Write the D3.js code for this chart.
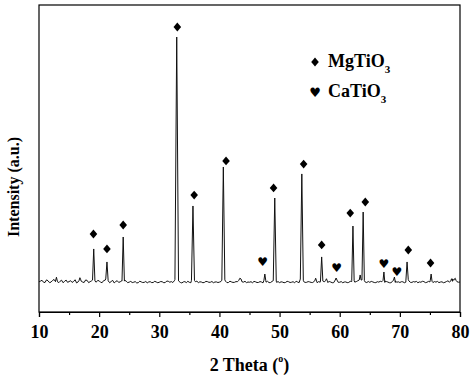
<!DOCTYPE html>
<html>
<head>
<meta charset="utf-8">
<script src="https://cdn.jsdelivr.net/npm/d3@7/dist/d3.min.js"></script>
<style>
  body { margin: 0; background: #fff; }
  text { font-family: "Liberation Serif", "Times New Roman", serif; font-weight: bold; fill: #000; }
</style>
</head>
<body>
<div id="xrd"></div>
<script>
// background pattern, one value every 0.5 deg from 10 to 80
var baseStart = 10, baseStep = 0.5;
var baseline = [
  295, 310, 288, 305, 292, 318, 290, 300, 286, 312,
  297, 289, 315, 294, 302, 288, 309, 296, 300, 291,
  305, 287, 311, 293, 298, 284, 306, 295, 290, 301,
  292, 288, 297, 286, 294, 290, 285, 296, 289, 293,
  291, 295, 288, 300, 297, 305, 292, 289, 294, 287,
  290, 298, 296, 287, 293, 289, 297, 291, 286, 294,
  292, 299, 302, 288, 294, 290, 296, 310, 292, 287,
  291, 286, 295, 289, 293, 298, 300, 288, 294, 290,
  287, 292, 289, 296, 291, 285, 293, 310, 298, 290,
  294, 288, 292, 297, 290, 296, 289, 293, 287, 300,
  291, 286, 294, 289, 298, 292, 305, 301, 295, 288,
  290, 294, 287, 292, 296, 289, 293, 286, 300, 291,
  288, 295, 292, 304, 289, 293, 286, 291, 297, 290,
  294, 288, 292, 287, 295, 290, 305, 292, 310, 296,
  293
];
// the in-between readings, at 10.25, 10.75, ... 79.75
var baselineMid = [
  302, 291, 314, 287, 308, 296, 285, 311, 299, 290,
  306, 298, 284, 310, 293, 313, 287, 305, 288, 308,
  290, 307, 296, 286, 309, 297, 289, 304, 310, 287,
  299, 291, 284, 301, 288, 298, 294, 287, 300, 286,
  298, 286, 303, 291, 288, 296, 301, 284, 297, 300,
  286, 292, 301, 295, 286, 299, 290, 298, 293, 288,
  298, 290, 287, 301, 289, 297, 288, 295, 300, 293,
  296, 299, 288, 297, 285, 292, 287, 299, 286, 297,
  295, 286, 300, 288, 296, 301, 287, 293, 289, 297,
  289, 299, 286, 291, 299, 287, 298, 286, 295, 290,
  297, 293, 287, 300, 288, 297, 290, 287, 292, 298,
  299, 288, 296, 300, 287, 298, 286, 297, 289, 295,
  296, 286, 298, 290, 297, 299, 294, 300, 287, 299,
  289, 297, 299, 293, 286, 298, 291, 300, 289, 291
];

// reflections: position (2 theta), top intensity, half width at the foot
var peakPos = [12.9, 16.8, 19.1, 21.3, 24.0, 32.9, 35.6, 40.65, 43.4, 47.55, 49.2, 53.7, 56.0, 57.0, 57.8, 59.4, 62.2, 63.4, 63.9, 67.35, 69.1, 71.2, 75.2, 78.6, 79.2];
var peakTop = [340, 335, 616, 489, 733, 2687, 1036, 1417, 330, 371, 1114, 1349, 330, 538, 325, 332, 840, 362, 977, 391, 342, 489, 371, 325, 330];
var peakWidth = [0.15, 0.15, 0.2, 0.2, 0.2, 0.3, 0.25, 0.25, 0.2, 0.15, 0.25, 0.25, 0.15, 0.2, 0.15, 0.15, 0.2, 0.15, 0.2, 0.15, 0.15, 0.2, 0.15, 0.15, 0.15];

// phase markers
var markPos = [19.05, 21.3, 24.0, 33.0, 35.8, 41.1, 49.0, 54.0, 57.0, 61.75, 64.25, 71.4, 75.1, 47.2, 59.5, 67.35, 69.5];
var markY = [762, 616, 850, 2785, 1143, 1476, 1212, 1446, 655, 967, 1075, 606, 479, 489, 430, 469, 391];
var markPhase = ["m", "m", "m", "m", "m", "m", "m", "m", "m", "m", "m", "m", "m", "c", "c", "c", "c"];

var xTicks = [10, 20, 30, 40, 50, 60, 70, 80];
var xMinor = [15, 25, 35, 45, 55, 65, 75];

var margin = {top: 5, right: 14, bottom: 68, left: 39},
    width = 474 - margin.left - margin.right,
    height = 380 - margin.top - margin.bottom;

// build the line points: background plus the spikes
function baseAt(x) {
  var i = Math.round((x - baseStart) / baseStep);
  i = Math.max(0, Math.min(baseline.length - 1, i));
  return baseline[i];
}
function inPeak(x) {
  return peakPos.some(function(p, j) { return Math.abs(x - p) <= peakWidth[j]; });
}
var data = [];
baseline.forEach(function(v, i) {
  var x = baseStart + i * baseStep;
  if (!inPeak(x)) data.push({x: x, y: v});
});
baselineMid.forEach(function(v, i) {
  var x = baseStart + baseStep / 2 + i * baseStep;
  if (!inPeak(x)) data.push({x: x, y: v});
});
peakPos.forEach(function(p, j) {
  data.push({x: p - peakWidth[j], y: baseAt(p - peakWidth[j]) + 12});
  data.push({x: p, y: peakTop[j]});
  data.push({x: p + peakWidth[j], y: baseAt(p + peakWidth[j]) + 12});
});
data.sort(function(a, b) { return a.x - b.x; });

var xScale = d3.scaleLinear().domain([10, 80]).range([0, width]);
var yScale = d3.scaleLinear().domain([0, 3000]).range([height, 0]);

var svg = d3.select("#xrd").append("svg")
    .attr("width", 474)
    .attr("height", 380)
  .append("g")
    .attr("transform", "translate(" + margin.left + "," + margin.top + ")");

// frame
svg.append("rect")
    .attr("width", width)
    .attr("height", height)
    .attr("fill", "none")
    .attr("stroke", "#000")
    .attr("stroke-width", 1.2);

// x axis, major ticks with labels
var xAxis = svg.append("g")
    .attr("transform", "translate(0," + height + ")")
    .call(d3.axisBottom(xScale).tickValues(xTicks).tickSize(5).tickPadding(8).tickFormat(d3.format("d")));
xAxis.select(".domain").attr("stroke-width", 1.2);
xAxis.selectAll(".tick line").attr("stroke-width", 1.2);
xAxis.selectAll("text")
    .style("font-family", "'Liberation Serif', serif")
    .style("font-weight", "bold")
    .style("font-size", "18px");

// minor ticks
svg.append("g")
    .attr("transform", "translate(0," + height + ")")
    .call(d3.axisBottom(xScale).tickValues(xMinor).tickSize(3).tickFormat(""))
    .call(function(g) { g.select(".domain").remove(); })
    .selectAll(".tick line").attr("stroke-width", 1.2);

// axis titles
var xt = svg.append("text")
    .attr("x", width / 2)
    .attr("y", 366)
    .attr("text-anchor", "middle")
    .style("font-size", "18px");
xt.append("tspan").text("2 Theta (");
xt.append("tspan").attr("dy", -9).style("font-size", "10px").text("o");
xt.append("tspan").attr("dy", 9).text(")");

svg.append("text")
    .attr("transform", "translate(" + (19 - margin.left) + "," + (187 - margin.top) + ") rotate(-90)")
    .attr("text-anchor", "middle")
    .style("font-size", "16px")
    .text("Intensity (a.u.)");

// the pattern
var line = d3.line()
    .x(function(d) { return xScale(d.x); })
    .y(function(d) { return yScale(d.y); });

svg.append("path")
    .datum(data)
    .attr("d", line)
    .attr("fill", "none")
    .attr("stroke", "#111")
    .attr("stroke-width", 1)
    .attr("stroke-linejoin", "round");

// markers
var diamond = d3.symbol().type(d3.symbolSquare).size(32);
var marks = markPos.map(function(p, i) { return {x: p, y: markY[i], phase: markPhase[i]}; });

svg.selectAll(".dia")
    .data(marks.filter(function(d) { return d.phase === "m"; }))
    .enter().append("path")
    .attr("class", "dia")
    .attr("d", diamond)
    .attr("transform", function(d) { return "translate(" + xScale(d.x) + "," + yScale(d.y) + ") scale(0.95,1.1) rotate(45)"; })
    .attr("fill", "#000");

svg.selectAll(".heart")
    .data(marks.filter(function(d) { return d.phase === "c"; }))
    .enter().append("text")
    .attr("class", "heart")
    .attr("x", function(d) { return xScale(d.x); })
    .attr("y", function(d) { return yScale(d.y); })
    .attr("text-anchor", "middle")
    .attr("dy", "0.35em")
    .style("font-family", "'DejaVu Sans', sans-serif")
    .style("font-size", "12px")
    .text("\u2665");

// legend
var legend = [{label: "MgTiO", phase: "m"}, {label: "CaTiO", phase: "c"}];
var lg = svg.selectAll(".lg")
    .data(legend)
    .enter().append("g")
    .attr("class", "lg")
    .attr("transform", function(d, i) { return "translate(" + (315 - margin.left) + "," + (62 + i * 30 - margin.top) + ")"; });

lg.filter(function(d) { return d.phase === "m"; }).append("path")
    .attr("d", diamond)
    .attr("transform", "scale(0.95,1.1) rotate(45)")
    .attr("fill", "#000");
lg.filter(function(d) { return d.phase === "c"; }).append("text")
    .attr("text-anchor", "middle")
    .attr("dy", "0.35em")
    .style("font-family", "'DejaVu Sans', sans-serif")
    .style("font-size", "13px")
    .text("\u2665");

var lt = lg.append("text")
    .attr("x", 13)
    .attr("y", 5)
    .style("font-size", "18px");
lt.append("tspan").text(function(d) { return d.label; });
lt.append("tspan").attr("dy", 6).style("font-size", "11px").text("3");
</script>
</body>
</html>
